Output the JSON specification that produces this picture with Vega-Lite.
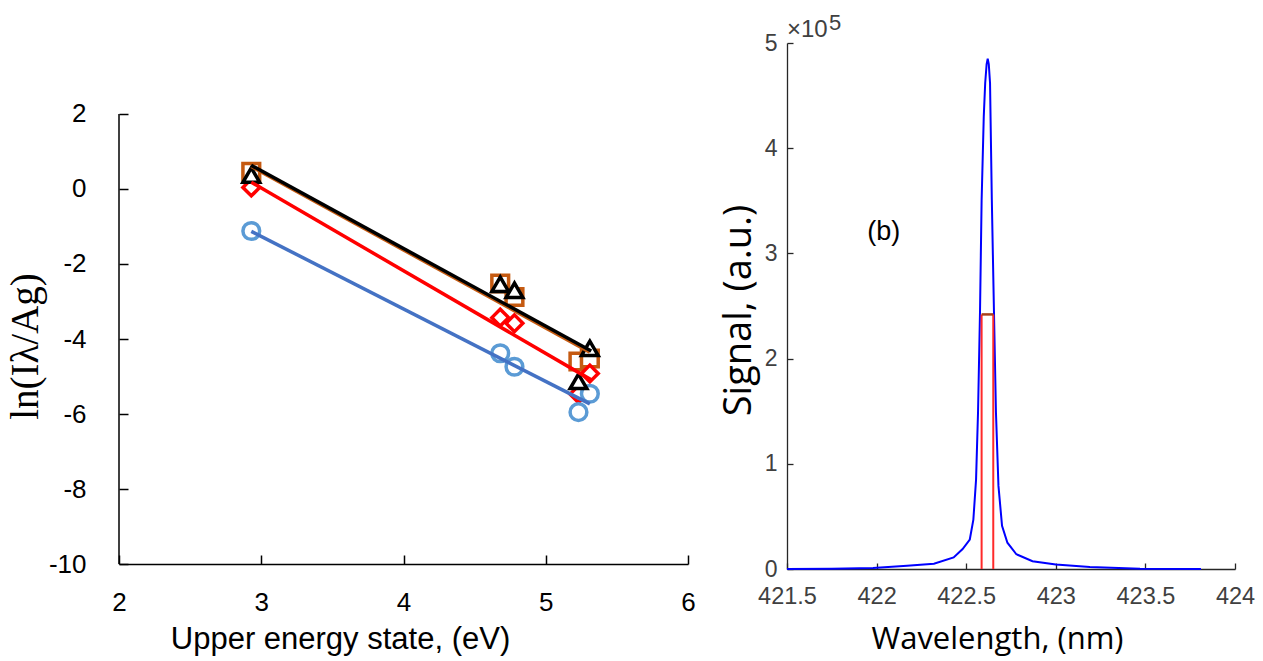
{
  "$schema": "https://vega.github.io/schema/vega-lite/v6.json",
  "background": "white",
  "padding": {"left": 6, "top": 12, "right": 5, "bottom": 5},
  "bounds": "flush",
  "spacing": 99,
  "config": {"view": {"stroke": null}},
  "hconcat": [
    {
      "width": 569,
      "height": 526,
      "encoding": {
        "x": {
          "field": "energy",
          "type": "quantitative",
          "scale": {"domain": [2, 6], "nice": false, "zero": false},
          "axis": {
            "title": "Upper energy state, (eV)",
            "values": [2, 3, 4, 5, 6],
            "labelExpr": "'' + datum.value",
            "grid": false,
            "offset": -5,
            "domainColor": "#000000",
            "domainWidth": 1.5,
            "tickColor": "#000000",
            "tickWidth": 1.5,
            "tickSize": -9,
            "labelPadding": 34,
            "labelFlush": false,
            "labelOverlap": false,
            "labelFont": "Liberation Sans",
            "labelFontSize": 26,
            "labelColor": "#000000",
            "titleFont": "Liberation Sans",
            "titleFontSize": 31,
            "titleFontWeight": "normal",
            "titleColor": "#000000",
            "titleX": 221,
            "titleY": 84,
            "titleAlign": "center",
            "titleBaseline": "alphabetic"
          }
        },
        "y": {
          "field": "value",
          "type": "quantitative",
          "scale": {"domain": [-10.133, 3.893], "nice": false, "zero": false},
          "axis": {
            "title": "ln(Iλ/Ag)",
            "values": [-10, -8, -6, -4, -2, 0, 2],
            "labelExpr": "'' + datum.value",
            "domain": false,
            "grid": false,
            "tickColor": "#000000",
            "tickWidth": 1.5,
            "tickSize": -9,
            "labelPadding": 42,
            "labelFlush": false,
            "labelOverlap": false,
            "labelFont": "Liberation Sans",
            "labelFontSize": 26,
            "labelColor": "#000000",
            "titleFont": "Liberation Serif",
            "titleFontSize": 39,
            "titleFontWeight": "normal",
            "titleColor": "#000000",
            "titleAngle": 270,
            "titleX": -94,
            "titleY": 303,
            "titleAlign": "center",
            "titleBaseline": "middle"
          }
        }
      },
      "layer": [
        {
          "data": {"values": [{"energy": 2, "value": -10, "value2": 2}]},
          "mark": {"type": "rule", "color": "#000000", "strokeWidth": 1.5},
          "encoding": {"y2": {"field": "value2"}}
        },
        {
          "data": {
            "values": [
              {"series": "set C", "energy": 2.93, "value": 0.46},
              {"series": "set C", "energy": 4.68, "value": -2.52},
              {"series": "set C", "energy": 4.78, "value": -2.88},
              {"series": "set C", "energy": 5.23, "value": -4.6},
              {"series": "set C", "energy": 5.31, "value": -4.52},
              {"series": "set B", "energy": 2.93, "value": 0.04},
              {"series": "set B", "energy": 4.68, "value": -3.43},
              {"series": "set B", "energy": 4.78, "value": -3.58},
              {"series": "set B", "energy": 5.23, "value": -5.47},
              {"series": "set B", "energy": 5.31, "value": -4.92},
              {"series": "set A", "energy": 2.93, "value": -1.12},
              {"series": "set A", "energy": 4.68, "value": -4.38},
              {"series": "set A", "energy": 4.78, "value": -4.74},
              {"series": "set A", "energy": 5.23, "value": -5.95},
              {"series": "set A", "energy": 5.31, "value": -5.46},
              {"series": "set D", "energy": 2.93, "value": 0.37},
              {"series": "set D", "energy": 4.68, "value": -2.54},
              {"series": "set D", "energy": 4.78, "value": -2.7},
              {"series": "set D", "energy": 5.23, "value": -5.13},
              {"series": "set D", "energy": 5.31, "value": -4.25}
            ]
          },
          "mark": {"type": "point", "filled": false, "fill": "white", "fillOpacity": 1, "opacity": 1, "strokeWidth": 3.5},
          "encoding": {
            "shape": {
              "field": "series",
              "type": "nominal",
              "scale": {"domain": ["set A", "set B", "set C", "set D"], "range": ["circle", "diamond", "square", "triangle-up"]},
              "legend": null
            },
            "size": {
              "field": "series",
              "type": "nominal",
              "scale": {"domain": ["set A", "set B", "set C", "set D"], "range": [280, 280, 260, 520]},
              "legend": null
            },
            "stroke": {
              "field": "series",
              "type": "nominal",
              "scale": {"domain": ["set A", "set B", "set C", "set D"], "range": ["#5B9BD5", "#FF0000", "#C55A11", "#000000"]},
              "legend": null
            }
          }
        },
        {
          "data": {
            "values": [
              {"series": "set A", "energy": 2.93, "value": -1.13},
              {"series": "set A", "energy": 5.31, "value": -5.73},
              {"series": "set B", "energy": 2.93, "value": 0.18},
              {"series": "set B", "energy": 5.32, "value": -5.09},
              {"series": "set C", "energy": 2.93, "value": 0.6},
              {"series": "set C", "energy": 5.31, "value": -4.35},
              {"series": "set D", "energy": 2.93, "value": 0.63},
              {"series": "set D", "energy": 5.32, "value": -4.32}
            ]
          },
          "mark": {"type": "line", "strokeWidth": 3.5},
          "encoding": {
            "color": {
              "field": "series",
              "type": "nominal",
              "scale": {"domain": ["set A", "set B", "set C", "set D"], "range": ["#4472C4", "#FF0000", "#C55A11", "#000000"]},
              "legend": null
            }
          }
        }
      ]
    },
    {
      "width": 448,
      "height": 526,
      "encoding": {
        "x": {
          "field": "wavelength",
          "type": "quantitative",
          "scale": {"domain": [421.5, 424], "nice": false, "zero": false},
          "axis": {
            "title": "Wavelength, (nm)",
            "values": [421.5, 422, 422.5, 423, 423.5, 424],
            "format": "~f",
            "grid": false,
            "domainColor": "#262626",
            "domainWidth": 1.3,
            "tickColor": "#262626",
            "tickWidth": 1.3,
            "tickSize": -6,
            "labelPadding": 21,
            "labelFlush": false,
            "labelOverlap": false,
            "labelFont": "Liberation Sans",
            "labelFontSize": 23.5,
            "labelColor": "#404040",
            "titleFont": "Open Sans",
            "titleFontSize": 31,
            "titleFontWeight": "normal",
            "titleColor": "#000000",
            "titleX": 210,
            "titleY": 79,
            "titleAlign": "center",
            "titleBaseline": "alphabetic"
          }
        },
        "y": {
          "field": "signal",
          "type": "quantitative",
          "scale": {"domain": [0, 500000], "nice": false},
          "axis": {
            "title": "Signal, (a.u.)",
            "values": [0, 100000, 200000, 300000, 400000, 500000],
            "labelExpr": "'' + datum.value / 100000",
            "grid": false,
            "domainColor": "#262626",
            "domainWidth": 1.3,
            "tickColor": "#262626",
            "tickWidth": 1.3,
            "tickSize": -6,
            "labelPadding": 16,
            "labelFlush": false,
            "labelOverlap": false,
            "labelFont": "Liberation Sans",
            "labelFontSize": 23,
            "labelColor": "#404040",
            "titleFont": "Open Sans",
            "titleFontSize": 38,
            "titleFontWeight": "normal",
            "titleColor": "#000000",
            "titleAngle": 270,
            "titleX": -48,
            "titleY": 267,
            "titleAlign": "center",
            "titleBaseline": "middle"
          }
        }
      },
      "layer": [
        {
          "data": {
            "values": [
              {"wavelength": 421.5, "signal": 0},
              {"wavelength": 421.75, "signal": 300},
              {"wavelength": 421.98, "signal": 1000},
              {"wavelength": 422.17, "signal": 3000},
              {"wavelength": 422.32, "signal": 5000},
              {"wavelength": 422.43, "signal": 11000},
              {"wavelength": 422.48, "signal": 19000},
              {"wavelength": 422.52, "signal": 28000},
              {"wavelength": 422.54, "signal": 47000},
              {"wavelength": 422.555, "signal": 85000},
              {"wavelength": 422.566, "signal": 149000},
              {"wavelength": 422.577, "signal": 244000},
              {"wavelength": 422.586, "signal": 350000},
              {"wavelength": 422.598, "signal": 430000},
              {"wavelength": 422.606, "signal": 462000},
              {"wavelength": 422.614, "signal": 480000},
              {"wavelength": 422.62, "signal": 485000},
              {"wavelength": 422.626, "signal": 480000},
              {"wavelength": 422.633, "signal": 462000},
              {"wavelength": 422.643, "signal": 351000},
              {"wavelength": 422.655, "signal": 244000},
              {"wavelength": 422.666, "signal": 149000},
              {"wavelength": 422.68, "signal": 79000},
              {"wavelength": 422.7, "signal": 41000},
              {"wavelength": 422.73, "signal": 25000},
              {"wavelength": 422.78, "signal": 14000},
              {"wavelength": 422.87, "signal": 7400},
              {"wavelength": 423.0, "signal": 4300},
              {"wavelength": 423.19, "signal": 2000},
              {"wavelength": 423.47, "signal": 300},
              {"wavelength": 423.81, "signal": 0}
            ]
          },
          "mark": {"type": "line", "color": "#0000FF", "strokeWidth": 2}
        },
        {
          "data": {
            "values": [
              {"wavelength": 422.586, "signal": 0, "signal2": 242000},
              {"wavelength": 422.651, "signal": 0, "signal2": 242000}
            ]
          },
          "mark": {"type": "rule", "color": "#FF2A2A", "strokeWidth": 2},
          "encoding": {"y2": {"field": "signal2"}}
        },
        {
          "data": {"values": [{"wavelength": 422.586, "wavelength2": 422.651, "signal": 242000}]},
          "mark": {"type": "rule", "color": "#A8401A", "strokeWidth": 2.5},
          "encoding": {"x2": {"field": "wavelength2"}}
        },
        {
          "data": {"values": [{"wavelength": 421.5, "signal": 500000, "label": "×10"}]},
          "mark": {"type": "text", "font": "Liberation Sans", "fontSize": 24, "color": "#404040", "align": "left", "baseline": "alphabetic", "dx": 0, "dy": -6},
          "encoding": {"text": {"field": "label"}}
        },
        {
          "data": {"values": [{"wavelength": 421.5, "signal": 500000, "label": "5"}]},
          "mark": {"type": "text", "font": "Liberation Sans", "fontSize": 22, "color": "#404040", "align": "left", "baseline": "alphabetic", "dx": 42, "dy": -13},
          "encoding": {"text": {"field": "label"}}
        },
        {
          "data": {"values": [{"wavelength": 422.04, "signal": 320000, "label": "(b)"}]},
          "mark": {"type": "text", "font": "Liberation Sans", "fontSize": 27, "color": "#000000", "align": "center", "baseline": "middle"},
          "encoding": {"text": {"field": "label"}}
        }
      ]
    }
  ]
}
